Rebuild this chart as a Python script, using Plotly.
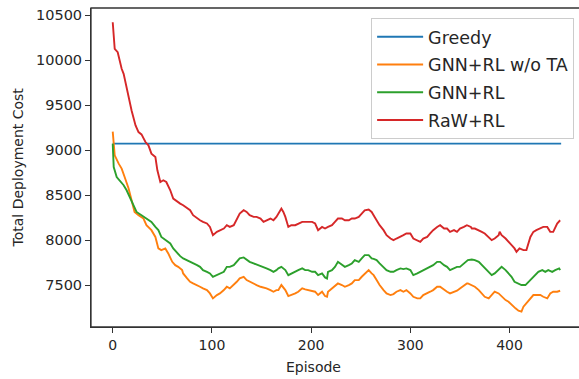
import plotly.graph_objects as go

# ---------------- data ----------------
series_names = ["Greedy", "GNN+RL w/o TA", "GNN+RL", "RaW+RL"]

greedy_episodes = [0, 452]
greedy_cost = [9071, 9071]

orange_episodes = [0, 2, 6, 9, 12, 16, 19, 22, 26, 31, 34, 39, 43, 46, 49, 53, 56, 60, 63, 66, 70,
                   71, 75, 78, 81, 85, 88, 91, 95, 98, 101, 105, 108, 112, 115, 118, 122, 125, 128,
                   132, 135, 138, 142, 145, 149, 152, 155, 159, 162, 165, 167, 170, 174, 177, 180,
                   184, 187, 191, 194, 197, 201, 204, 207, 211, 214, 216, 217, 221, 224, 227, 231,
                   234, 238, 241, 244, 248, 251, 254, 258, 261, 263, 266, 269, 273, 276, 280, 283,
                   286, 290, 293, 296, 300, 303, 307, 310, 313, 317, 320, 323, 327, 330, 334, 337,
                   340, 344, 347, 350, 354, 357, 358, 362, 365, 369, 372, 375, 379, 382, 385, 389,
                   392, 396, 399, 402, 406, 409, 412, 414, 417, 421, 424, 427, 431, 434, 438, 441,
                   444, 448, 451]
orange_cost = [9205, 8941, 8849, 8794, 8700, 8572, 8442, 8312, 8276, 8239, 8165, 8110, 8035, 7907,
               7888, 7907, 7851, 7758, 7721, 7702, 7666,
               7629, 7574, 7536, 7518, 7500, 7481, 7463, 7444, 7407, 7352, 7389, 7407, 7444, 7481,
               7463, 7500, 7536, 7574, 7592, 7555, 7536, 7518, 7500, 7481, 7474, 7463, 7444, 7426,
               7444, 7444, 7500, 7444, 7378, 7389, 7407, 7426, 7463, 7452, 7444, 7426, 7426, 7389,
               7426, 7378, 7370, 7426, 7463, 7481, 7518, 7500, 7481, 7500, 7518, 7555, 7555, 7592,
               7629, 7666, 7629, 7610, 7555, 7500, 7444, 7407, 7389, 7400, 7426, 7444, 7426, 7444,
               7407, 7370, 7352, 7352, 7389, 7407, 7426, 7444, 7481, 7481, 7444, 7426, 7407, 7426,
               7437, 7463, 7500, 7518, 7518, 7500, 7481, 7444, 7407, 7370, 7352, 7389, 7426, 7407,
               7370, 7333, 7315, 7278, 7241, 7215, 7205, 7259, 7296, 7352, 7389, 7389, 7389, 7370,
               7352, 7407, 7426, 7426, 7437]

green_episodes = [0, 1, 4, 7, 11, 14, 17, 21, 24, 29, 34, 39, 43, 46, 49, 54, 58, 61, 65, 68,
                  71, 75, 78, 81, 85, 88, 91, 95, 98, 101, 105, 108, 112, 115, 118, 122, 125, 128,
                  132, 135, 138, 142, 145, 149, 152, 155, 159, 162, 165, 167, 170, 174, 177, 180,
                  184, 187, 191, 194, 197, 201, 204, 207, 211, 214, 216, 217, 221, 224, 227, 231,
                  234, 238, 241, 244, 248, 251, 254, 258, 261, 263, 266, 269, 273, 276, 280, 283,
                  286, 290, 293, 296, 300, 303, 307, 310, 313, 317, 320, 323, 327, 330, 334, 337,
                  340, 344, 347, 350, 354, 357, 358, 362, 365, 369, 372, 375, 379, 382, 385, 389,
                  392, 396, 399, 402, 405, 409, 412, 416, 419, 423, 426, 429, 433, 436, 439, 443,
                  446, 450, 451]
green_cost = [9071, 8811, 8700, 8664, 8609, 8553, 8479, 8368, 8312, 8276, 8239, 8202, 8146, 8110,
              8035, 7999, 7962, 7907, 7851, 7821,
              7796, 7777, 7758, 7740, 7721, 7702, 7666, 7647, 7629, 7592, 7610, 7629, 7647, 7702,
              7702, 7721, 7758, 7796, 7807, 7777, 7758, 7740, 7729, 7710, 7702, 7685, 7666, 7647,
              7666, 7685, 7702, 7666, 7610, 7629, 7647, 7666, 7685, 7666, 7666, 7647, 7647, 7610,
              7629, 7585, 7573, 7647, 7666, 7702, 7758, 7721, 7702, 7721, 7740, 7777, 7758, 7796,
              7832, 7832, 7796, 7790, 7777, 7740, 7702, 7666, 7647, 7647, 7666, 7685, 7677, 7685,
              7666, 7610, 7629, 7647, 7666, 7685, 7702, 7721, 7758, 7758, 7721, 7702, 7666, 7685,
              7702, 7702, 7740, 7758, 7777, 7784, 7777, 7758, 7721, 7685, 7647, 7610, 7629, 7666,
              7702, 7666, 7629, 7592, 7536, 7518, 7500, 7500, 7536, 7574, 7610, 7647, 7666, 7647,
              7666, 7647, 7666, 7685, 7666, 7666]

red_episodes = [0, 2, 5, 9, 11, 16, 19, 23, 26, 29, 33, 36, 39, 43, 45, 48, 51, 54, 58, 61, 65,
                68, 71, 75, 78, 81, 85, 88, 91, 95, 98, 100, 101, 105, 108, 112, 115, 118, 122,
                125, 128, 132, 135, 138, 142, 145, 149, 152, 155, 159, 162, 165, 169, 170, 172,
                174, 177, 180, 184, 187, 191, 194, 197, 201, 204, 207, 211, 214, 217, 221, 224,
                227, 231, 234, 238, 241, 244, 248, 251, 254, 258, 261, 264, 266, 269, 273, 276,
                280, 283, 286, 290, 293, 296, 300, 303, 307, 310, 313, 317, 320, 323, 327, 330,
                334, 337, 340, 344, 347, 350, 354, 357, 361, 362, 365, 369, 372, 375, 379, 382,
                385, 389, 390, 392, 396, 399, 402, 405, 407, 410, 414, 417, 421, 424, 427, 431,
                434, 438, 441, 444, 448, 451]
red_cost = [10420, 10125, 10087, 9903, 9847, 9588, 9440, 9274, 9200, 9174, 9089, 9052, 8960, 8922,
            8775, 8645, 8664, 8645, 8553, 8461, 8423,
            8405, 8387, 8350, 8331, 8276, 8239, 8220, 8202, 8184, 8146, 8073, 8054, 8091, 8110,
            8128, 8165, 8146, 8165, 8239, 8294, 8331, 8312, 8276, 8257, 8257, 8239, 8202, 8220,
            8239, 8220, 8257, 8331, 8350, 8312, 8257, 8146, 8165, 8165, 8184, 8202, 8202, 8202,
            8202, 8184, 8110, 8146, 8128, 8146, 8165, 8202, 8239, 8239, 8220, 8220, 8239, 8239,
            8257, 8294, 8331, 8339, 8312, 8257, 8220, 8165, 8110, 8054, 8017, 7999, 8017, 8035,
            8054, 8073, 8073, 8017, 7999, 7980, 8017, 8035, 8073, 8110, 8146, 8165, 8128, 8128,
            8091, 8110, 8091, 8128, 8146, 8165, 8146, 8128, 8128, 8110, 8091, 8073, 8035, 7999,
            8017, 8054, 8091, 8054, 8017, 7980, 7943, 7907, 7869, 7907, 7888, 7888, 8035, 8091,
            8110, 8128, 8146, 8146, 8091, 8091, 8184, 8220, 8239]

y_tick_values = [7500, 8000, 8500, 9000, 9500, 10000, 10500]
x_tick_values = [0, 100, 200, 300, 400]

colors = ["#1f77b4", "#ff7f0e", "#2ca02c", "#d62728"]

# ---------------- figure ----------------
fig = go.Figure()
all_x = [greedy_episodes, orange_episodes, green_episodes, red_episodes]
all_y = [greedy_cost, orange_cost, green_cost, red_cost]
for name, xs, ys, c in zip(series_names, all_x, all_y, colors):
    fig.add_trace(go.Scatter(x=xs, y=ys, mode="lines", name=name,
                             line=dict(color=c, width=1.9), legendgroup=name))

text_color = "#262626"
fig.update_layout(
    width=579, height=379,
    margin=dict(l=91, r=0, t=8, b=52),
    paper_bgcolor="white", plot_bgcolor="white",
    font=dict(family="DejaVu Sans", size=14, color=text_color),
    showlegend=True,
    legend=dict(x=0.99, y=0.969, xanchor="right", yanchor="top",
                bgcolor="white", bordercolor="#cccccc", borderwidth=1,
                font=dict(size=17.5, color=text_color), tracegroupgap=2,
                itemwidth=46),
    xaxis=dict(range=[-21.9, 470], tickvals=x_tick_values, showgrid=False, zeroline=False,
               showline=True, linecolor="#333333", linewidth=1, mirror=False,
               ticks="outside", ticklen=5, tickcolor="#333333", tickformat="d",
               tickfont=dict(size=14, color=text_color)),
    yaxis=dict(range=[7034, 10578], tickvals=y_tick_values, showgrid=False, zeroline=False,
               showline=True, linecolor="#333333", linewidth=1, mirror=False,
               ticks="outside", ticklen=5, tickcolor="#333333", tickformat="d",
               tickfont=dict(size=14.5, color=text_color)),
    shapes=[
        dict(type="rect", xref="paper", yref="paper", x0=0, x1=1.05, y0=0, y1=1,
             line=dict(color="#333333", width=1.3), fillcolor="rgba(0,0,0,0)",
             layer="above"),
    ],
    annotations=[
        dict(text="Episode", xref="paper", yref="paper", x=0.455, y=0, yshift=-40,
             xanchor="center", yanchor="middle", showarrow=False,
             font=dict(size=14, color=text_color)),
        dict(text="Total Deployment Cost", xref="paper", yref="paper", x=0, xshift=-74,
             y=0.5, xanchor="center", yanchor="middle", textangle=-90, showarrow=False,
             font=dict(size=14, color=text_color)),
    ],
)

fig.write_html("out.html", config={"displayModeBar": False},
               post_script="document.body.style.margin='0px';document.body.style.overflow='hidden';")
